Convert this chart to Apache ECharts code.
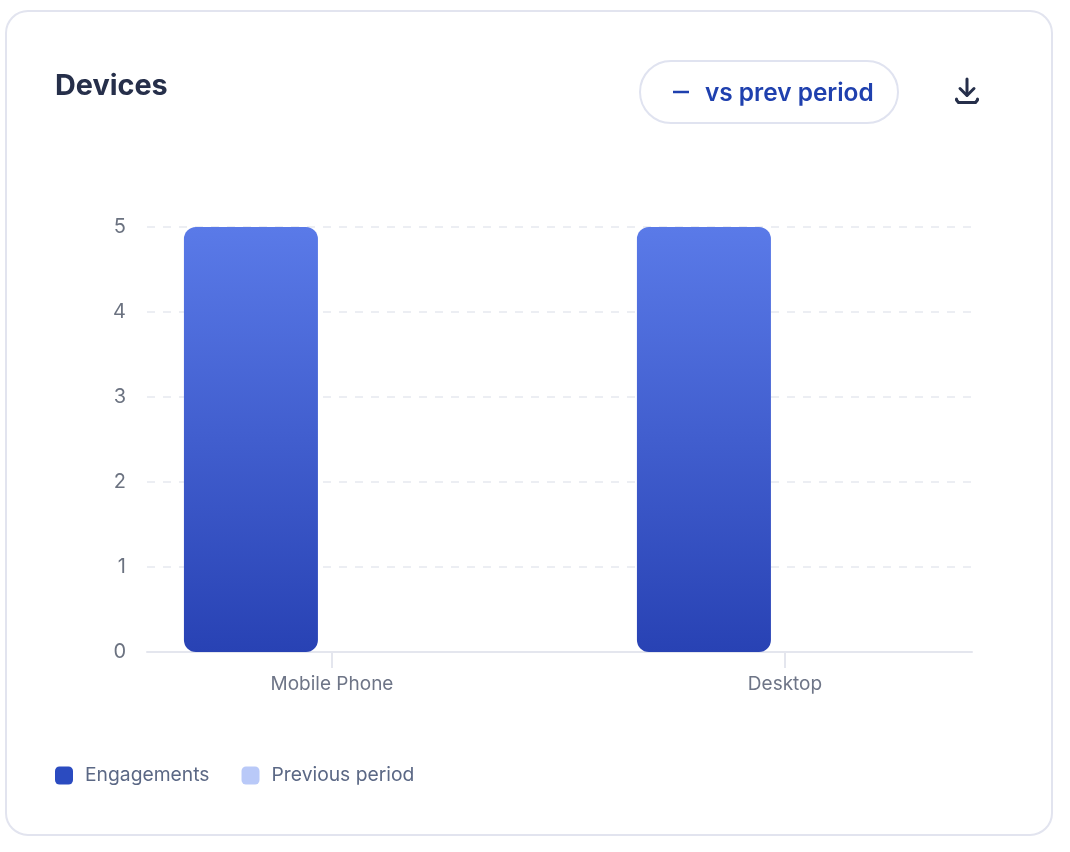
<!DOCTYPE html>
<html><head><meta charset="utf-8">
<style>html,body{margin:0;padding:0;background:#fff}#c{width:1070px;height:852px}</style>
<script src="https://cdn.jsdelivr.net/npm/echarts@6/dist/echarts.min.js"></script>
</head><body><div id="c"></div>
<script>
const categories = ['Mobile Phone', 'Desktop'];
const engagements = [5, 5];
const previousPeriod = [0, 0];
const yTicks = [0, 1, 2, 3, 4, 5];
const FONT = 'Inter, "Noto Sans", sans-serif';
const chart = echarts.init(document.getElementById('c'), null, {renderer:'canvas'});
chart.setOption({
  animation:false,
  backgroundColor:'#fff',
  title:{text:'Devices',left:50,top:67,textStyle:{fontFamily:FONT,fontSize:28.8,fontWeight:700,color:'#262f4a'}},
  legend:{left:50,top:761,itemWidth:18,itemHeight:18,itemGap:32,icon:'roundRect',
    textStyle:{fontFamily:FONT,fontSize:19.3,color:'#5b6885',padding:[2,0,0,7]},
    data:[{name:'Engagements',itemStyle:{color:'#2b4bc0'}},{name:'Previous period',itemStyle:{color:'#b9c9f8'}}]},
  grid:[
    {left:147,width:825,top:227,height:425},
    {left:105.5,width:906,top:227,height:425}
  ],
  xAxis:[
    {gridIndex:0,type:'category',data:categories,axisTick:{show:false},axisLabel:{show:false},
      axisLine:{lineStyle:{color:'#e4e6ee',width:2}}},
    {gridIndex:1,type:'category',data:categories,
      axisLine:{show:false},
      axisTick:{show:true,alignWithLabel:true,length:16,lineStyle:{color:'#e4e6ee',width:2}},
      axisLabel:{fontFamily:FONT,fontSize:19,color:'#6e7587',margin:23}}
  ],
  yAxis:[
    {gridIndex:0,type:'value',min:0,max:yTicks[yTicks.length-1],interval:1,
      axisLine:{show:false},axisTick:{show:false},
      axisLabel:{fontFamily:FONT,fontSize:20,color:'#6b7280',margin:21,padding:[4,0,0,0]},
      splitLine:{lineStyle:{color:'#eceef3',width:2,type:[8,8]}}},
    {gridIndex:1,type:'value',min:0,max:5,interval:1,show:false}
  ],
  series:[
    {name:'Engagements',type:'bar',xAxisIndex:1,yAxisIndex:1,data:engagements,barWidth:134,barGap:'21%',
      itemStyle:{borderRadius:12,color:new echarts.graphic.LinearGradient(0,0,0,1,[{offset:0,color:'#5a7ae8'},{offset:1,color:'#2842b4'}])}},
    {name:'Previous period',type:'bar',xAxisIndex:1,yAxisIndex:1,data:previousPeriod,barWidth:134,
      itemStyle:{borderRadius:12,color:'#b9c9f8'}}
  ],
  graphic:[
    {type:'rect',z:-1,shape:{x:6,y:11,width:1046,height:824,r:22},style:{fill:'#fff',stroke:'#e2e4ef',lineWidth:2}},
    {type:'rect',shape:{x:640,y:61,width:258,height:62,r:31},style:{fill:'#fff',stroke:'#e0e3f0',lineWidth:2}},
    {type:'line',shape:{x1:673,y1:92,x2:689,y2:92},style:{stroke:'#1f40ae',lineWidth:2.5}},
    {type:'text',x:705,y:94,style:{text:'vs prev period',fontFamily:FONT,fontSize:24.4,fontWeight:600,fill:'#1f40ae',textVerticalAlign:'middle',textBaseline:'middle'}},
    {type:'polyline',shape:{points:[[967,79],[967,95]]},style:{stroke:'#262f4a',lineWidth:3,fill:null,lineCap:'round'}},
    {type:'polyline',shape:{points:[[960,88.5],[967,95.5],[974,88.5]]},style:{stroke:'#262f4a',lineWidth:3,fill:null,lineCap:'round',lineJoin:'round'}},
    {type:'polyline',shape:{points:[[956.5,99],[956.5,100],[958.5,102.5],[975.5,102.5],[977.5,100],[977.5,99]]},style:{stroke:'#262f4a',lineWidth:3,fill:null,lineCap:'round',lineJoin:'round'}}
  ]
});
</script></body></html>
